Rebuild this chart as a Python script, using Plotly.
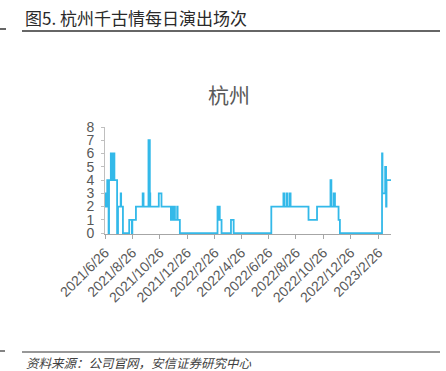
import plotly.graph_objects as go

# ---- data (change points of the daily series; value holds until next date) ----
dates = [
    "2021-06-26", "2021-06-27", "2021-06-28", "2021-06-29", "2021-07-01",
    "2021-07-04", "2021-07-05", "2021-07-09", "2021-07-11", "2021-07-15",
    "2021-07-17", "2021-07-23", "2021-07-25", "2021-07-31", "2021-08-01",
    "2021-08-05", "2021-08-19", "2021-08-25", "2021-08-26", "2021-09-03",
    "2021-09-18", "2021-09-20", "2021-10-01", "2021-10-04", "2021-10-05",
    "2021-10-24", "2021-10-30", "2021-11-20", "2021-11-23", "2021-11-24",
    "2021-11-28", "2021-11-29", "2021-12-04", "2021-12-05", "2021-12-10",
    "2022-03-04", "2022-03-06", "2022-03-08", "2022-03-09", "2022-03-13",
    "2022-04-03", "2022-04-09", "2022-07-02", "2022-07-29", "2022-07-31",
    "2022-08-05", "2022-08-07", "2022-08-12", "2022-08-14", "2022-09-23",
    "2022-10-12", "2022-11-11", "2022-11-13", "2022-11-18", "2022-11-21",
    "2022-11-29", "2022-12-02", "2023-03-06", "2023-03-07", "2023-03-13",
    "2023-03-15", "2023-03-16", "2023-03-26",
]
values = [
    3, 2, 3, 2, 4,
    0, 4, 6, 4, 6,
    4, 0, 2, 3, 2,
    0, 1, 0, 1, 2,
    3, 2, 7, 3, 2,
    3, 2, 1, 2, 1,
    2, 1, 2, 1, 0,
    2, 1, 2, 1, 0,
    1, 0, 2, 3, 2,
    3, 2, 3, 2, 1,
    2, 4, 2, 3, 2,
    1, 0, 6, 3, 5,
    2, 4, 4,
]
tick_dates = [
    "2021-06-26", "2021-08-26", "2021-10-26", "2021-12-26", "2022-02-26",
    "2022-04-26", "2022-06-26", "2022-08-26", "2022-10-26", "2022-12-26",
    "2023-02-26",
]
tick_labels = [
    "2021/6/26", "2021/8/26", "2021/10/26", "2021/12/26", "2022/2/26",
    "2022/4/26", "2022/6/26", "2022/8/26", "2022/10/26", "2022/12/26",
    "2023/2/26",
]
y_ticks = [0, 1, 2, 3, 4, 5, 6, 7, 8]

main_title = "图5. 杭州千古情每日演出场次"
chart_title = "杭州"
source_text = "资料来源：公司官网，安信证券研究中心"

# ---- layout geometry ----
W, H = 446, 371
L, R, T, B = 105, 55, 127, 137
PW, PH = W - L - R, H - T - B


def px(x):
    return (x - L) / PW


def py(y):
    return 1 - (y - T) / PH


CJK = "Noto Sans CJK SC, Noto Sans, sans-serif"
NUM = "Liberation Sans, Arial, sans-serif"

fig = go.Figure(
    go.Scatter(
        x=dates, y=values, mode="lines",
        line=dict(color="#33B9E9", width=1.8, shape="hv"),
        hoverinfo="skip", showlegend=False,
    )
)

fig.update_layout(
    width=W, height=H,
    margin=dict(l=L, r=R, t=T, b=B, pad=0),
    paper_bgcolor="white", plot_bgcolor="white",
    showlegend=False,
    xaxis=dict(
        type="date",
        range=["2021-06-26", "2023-03-26"],
        tickvals=tick_dates, ticktext=tick_labels,
        tickangle=-45,
        tickfont=dict(family=NUM, size=14, color="#595959"),
        showgrid=False, zeroline=False,
        showline=True, linecolor="#A6A6A6", linewidth=1,
        ticks="outside", ticklen=4, tickcolor="#A6A6A6",
        fixedrange=True,
    ),
    yaxis=dict(
        range=[-0.07, 8],
        tickvals=y_ticks,
        tickfont=dict(family=NUM, size=14, color="#595959"),
        showgrid=False, zeroline=False,
        showline=True, linecolor="#BFBFBF", linewidth=1,
        ticks="outside", ticklen=3, tickcolor="#BFBFBF",
        ticklabelstandoff=4,
        fixedrange=True,
    ),
)

annotations = [
    dict(text=main_title, x=px(23), y=py(18), xref="paper", yref="paper",
         xanchor="left", yanchor="middle", showarrow=False,
         font=dict(family=CJK, size=17, color="#2A2A2A")),
    dict(text=chart_title, x=px(229), y=py(94), xref="paper", yref="paper",
         xanchor="center", yanchor="middle", showarrow=False,
         font=dict(family=CJK, size=21, color="#595959")),
    dict(text="<i>" + source_text + "</i>", x=px(24), y=py(362), xref="paper", yref="paper",
         xanchor="left", yanchor="middle", showarrow=False,
         font=dict(family=CJK, size=12.5, color="#404040")),
]
fig.update_layout(annotations=annotations)

shapes = [
    dict(type="line", xref="paper", yref="paper", x0=px(22), x1=px(440), y0=py(31), y1=py(31),
         line=dict(color="#333333", width=1.5)),
    dict(type="line", xref="paper", yref="paper", x0=px(0), x1=px(6), y0=py(29), y1=py(29),
         line=dict(color="#333333", width=1.5)),
    dict(type="line", xref="paper", yref="paper", x0=px(22), x1=px(440), y0=py(352), y1=py(352),
         line=dict(color="#333333", width=1.2)),
    dict(type="line", xref="paper", yref="paper", x0=px(0), x1=px(5), y0=py(351), y1=py(351),
         line=dict(color="#333333", width=1.2)),
]
fig.update_layout(shapes=shapes)

fig.write_html("out.html", config=dict(displayModeBar=False, staticPlot=True))
